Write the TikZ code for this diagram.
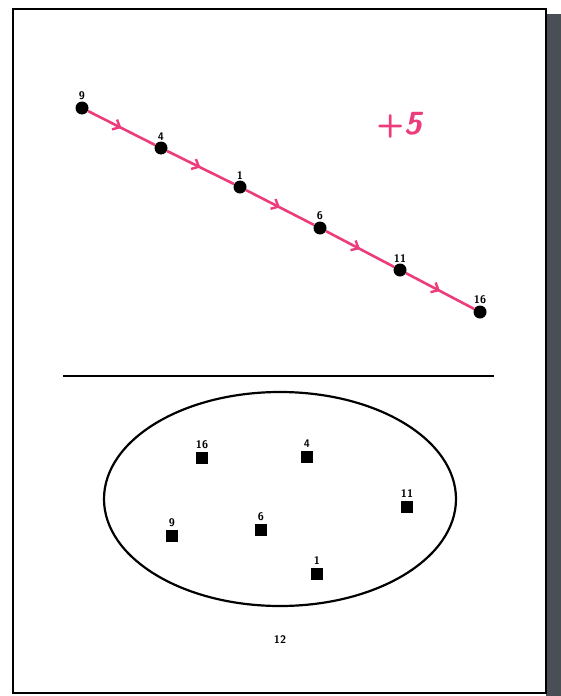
\documentclass[tikz,border=0pt]{standalone}
\usepackage{tikz}
\usetikzlibrary{arrows.meta,decorations.markings,positioning,shapes.geometric}
\definecolor{orbpink}{HTML}{EC3C7C}
\definecolor{orbshadow}{HTML}{4A4F55}

\begin{document}
\begin{tikzpicture}[x=1pt,y=-1pt,
  dot/.style={circle,fill=black,inner sep=0pt,minimum size=13pt},
  sq/.style={fill=black,inner sep=0pt,minimum size=12pt},
  lab/.style={font=\sffamily\bfseries\fontsize{11}{11}\selectfont,inner sep=1pt},
  hop/.style={draw=orbpink,line width=2.6pt,postaction={decorate},
    decoration={markings,mark=at position .5 with {\arrow{Straight Barb[length=6pt,width=11pt,line width=2.4pt]}}}}]
  \useasboundingbox (0,0) rectangle (561,696);
  \fill[orbshadow] (546,14) rectangle (561,696);
  \draw[line width=2.4pt,fill=white] (13,9) rectangle (546,693);
  % orbit under +5
  \foreach \n/\x/\y in {9/82/108,4/161/148,1/240/187,6/320/228,11/400/270,16/480/312}{
    \node[dot] (t\n) at (\x,\y) {};
    \node[lab,above=0pt of t\n] (tl\n) {\n};
  }
  \foreach \a/\b in {9/4,4/1,1/6,6/11,11/16}
    \draw[hop] (t\a) -- (t\b);
  \node[orbpink,font=\sffamily\bfseries\fontsize{32}{32}\selectfont] (shift) at (400,125) {+\textsl{5}};
  \draw[line width=1.5pt] (63,376) -- (494,376);
  % the same elements as a set
  \node[draw,ellipse,line width=2.2pt,inner sep=0pt,minimum width=352pt,minimum height=214pt] (set) at (280,499) {};
  \foreach \n/\x/\y in {16/202/458,4/307/457,9/172/536,6/261/530,11/407/507,1/317/574}{
    \node[sq] (s\n) at (\x,\y) {};
    \node[lab,above=2pt of s\n] (sl\n) {\n};
  }
  \node[lab] (mod) at (280,640) {12};
\end{tikzpicture}
\end{document}
